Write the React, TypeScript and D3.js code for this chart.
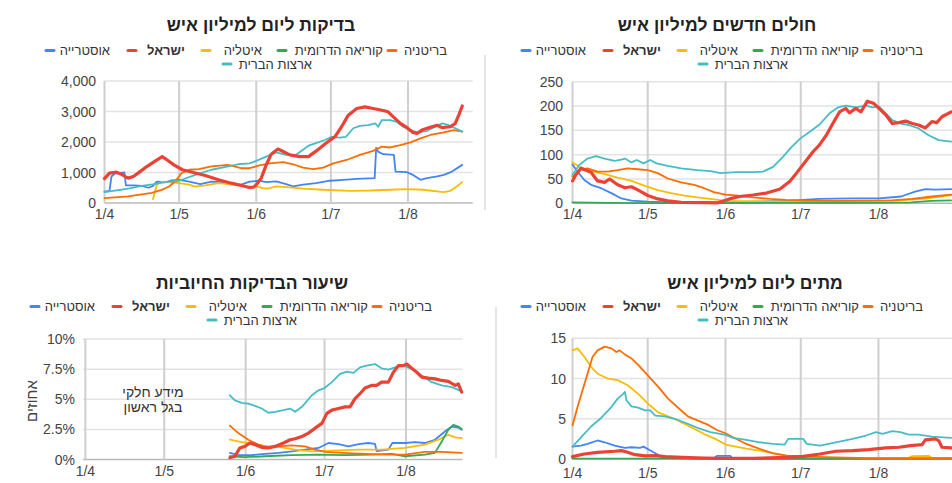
import React from 'react';
import * as d3 from 'd3';

type Pt = [number, number];

// ---------- shared categories / ticks ----------
const seriesNames = ['אוסטרייה', 'ישראל', 'איטליה', 'קוריאה הדרומית', 'בריטניה', 'ארצות הברית'];
const seriesColors = ['#4285F4', '#EA4335', '#FBBC04', '#34A853', '#FF6D01', '#46BDC6'];
const monthTickDays = [0, 30, 61, 91, 122];
const monthTickLabels = ['1/4', '1/5', '1/6', '1/7', '1/8'];

const chartTitles = ['בדיקות ליום למיליון איש', 'חולים חדשים למיליון איש', 'שיעור הבדיקות החיוביות', 'מתים ליום למיליון איש'];
const testsTicks = [0, 1000, 2000, 3000, 4000];
const casesTicks = [0, 50, 100, 150, 200, 250];
const positiveTicks = [0, 2.5, 5, 7.5, 10];
const deathsTicks = [0, 5, 10, 15];
const positiveAxisTitle = 'אחוזים';
const positiveNote = ['מידע חלקי', 'בגל ראשון'];

// ---------- data: [days since 1/4, value] ----------
// tests per day per million
const testsAustria: Pt[] = [[0,370],[2,400],[2.8,870],[4,960],[8,1000],[8.6,580],[12,580],[15,560],[17.7,500],[19.5,560],[21,700],[24.5,680],[27,740],[30,760],[34,700],[38.5,620],[43,700],[47,690],[49.7,620],[54.9,600],[58.3,700],[62.3,730],[65,685],[69,706],[73,620],[75.8,545],[79.8,600],[85,650],[90.6,730],[96,760],[101.4,790],[108.6,815],[109.2,1815],[110,1685],[112,1600],[116.3,1580],[117,1030],[121.6,1010],[124,920],[127,760],[129.6,815],[133.7,870],[136.4,920],[139.7,1030],[143.8,1250]];
const testsIsrael: Pt[] = [[0,800],[2,980],[4.8,1010],[6.8,945],[8.2,870],[9.5,815],[11.6,870],[14.3,1030],[17,1195],[20.5,1380],[23.2,1520],[25.2,1410],[27.9,1250],[31.3,1090],[35.3,1010],[40.5,900],[45.8,760],[51,650],[55,575],[58.3,510],[60,520],[61,600],[63,815],[65,1250],[67,1600],[69.7,1770],[71.8,1690],[74.5,1580],[78.5,1520],[82,1520],[85,1700],[89,1960],[92.6,2170],[95.3,2500],[98,2880],[101.4,3100],[104.7,3150],[108,3100],[111.5,3040],[114,2990],[116,2830],[118.9,2610],[121.6,2470],[124,2315],[125.6,2280],[127.6,2390],[130.3,2470],[133.7,2550],[135.7,2470],[139,2500],[141,2610],[142.4,2880],[143.8,3180]];
const testsItaly: Pt[] = [[19.5,130],[21,600],[23,700],[26,685],[30,650],[34,600],[36.5,540],[40.5,575],[45.7,650],[52,600],[58.3,510],[61,545],[63.7,490],[65.7,470],[69,545],[74.5,510],[79.8,470],[88,435],[98.7,400],[106.8,410],[114.8,435],[121.6,455],[128,435],[136.4,360],[139,400],[141,510],[143.8,685]];
const testsKorea: Pt[] = [];
const testsUK: Pt[] = [[0,160],[9.5,220],[19,330],[23,430],[26,540],[28.6,730],[31,980],[34,1090],[37.9,1110],[43,1200],[49.7,1250],[54.9,1140],[58.3,1140],[62.3,1230],[66.4,1300],[71.8,1340],[75.8,1270],[79.8,1160],[83.9,1110],[87.9,1160],[92,1300],[97.3,1410],[102.7,1580],[108,1710],[111.5,1850],[114.8,1820],[118.9,1900],[123,1990],[127,2120],[131,2230],[136.4,2315],[140.4,2390],[143.8,2340]];
const testsUSA: Pt[] = [[0,360],[3.4,400],[6.8,435],[10,480],[15,560],[20,620],[25,690],[30,730],[36.5,920],[43,1090],[49.7,1200],[53.6,1270],[58.3,1300],[61,1380],[65,1520],[69,1660],[73,1580],[77,1580],[82,1880],[85,1960],[88.6,2065],[91.3,2170],[94.6,2140],[97,2170],[100,2450],[102.7,2530],[106,2550],[108.8,2610],[110,2500],[111.5,2720],[114.8,2720],[117.5,2660],[120,2500],[123,2390],[125.6,2315],[129.6,2360],[133,2500],[135.7,2610],[138.4,2550],[141,2450],[143.8,2340]];

// new cases per million
const casesAustria: Pt[] = [[0,80],[2,65],[4.7,48],[7.4,38],[11.4,31],[15.5,21],[19.5,10],[23.5,5.5],[30,3.4],[39.3,2],[49.8,1.4],[61,2],[72,3.4],[85,5],[98.5,9],[111.7,10],[122.2,10],[131,14],[136.6,24],[140.7,29],[144.6,28],[151,29]];
const casesIsrael: Pt[] = [[0,46],[1.3,58],[3.4,72],[5.4,68],[7.4,64],[10,46],[12.8,43],[14.8,50],[18,38],[20.9,32],[23.5,34],[26.2,27],[30,16],[34,9],[38,5],[43.3,2],[52.5,1.5],[58,1],[62.6,9],[66.6,14],[72,17],[77.3,21],[82.6,29],[86.6,45],[89.3,62],[92.6,84],[95.9,106],[98.5,120],[101.2,140],[103.8,164],[106.5,188],[109,195],[110.4,186],[113,195],[115,188],[117.6,210],[120.2,205],[122.2,195],[124.9,182],[127.5,164],[130.2,166],[132.8,169],[135.5,164],[138,161],[140.7,155],[143.3,168],[145.3,166],[147.3,178],[151,188]];
const casesItaly: Pt[] = [[0,84],[2.7,75],[7.4,66],[12.8,60],[18,53],[23.5,46],[28.9,36],[34,27],[39.3,21],[44.6,16],[49.8,12],[55,9],[61,5],[75,4],[91,3.5],[105,4],[120,5],[130,6],[140,9],[146,13],[151,17]];
const casesKorea: Pt[] = [[0,2],[15,0.8],[30,0.3],[60,0.6],[90,1],[120,0.8],[135,2],[143,5],[151,6]];
const casesUK: Pt[] = [[0,55],[2.7,68],[6,72],[10,65],[14,65],[18,68],[22,72],[26,70],[30,68],[34,62],[38,51],[43.3,43],[48.5,38],[52.5,31],[56.4,23],[61,18],[65,16],[72,12],[78.6,9],[85,7],[93,5.5],[105,5],[118,5.5],[127.5,6],[135.5,9],[143.3,14],[151,18]];
const casesUSA: Pt[] = [[0,58],[2.7,79],[6,92],[9.4,97],[12.8,92],[16.8,87],[19.5,90],[20.9,92],[23.5,84],[25.6,89],[28.3,82],[31,89],[33.5,82],[38,77],[43.3,72],[49.8,68],[55,66],[59,62],[65.3,64],[72,64],[76,65],[80,75],[84,96],[87.4,116],[91,134],[94.6,147],[98.5,162],[102.5,185],[105.8,197],[109,201],[113,197],[117,201],[119.6,197],[122.2,199],[124.9,185],[127.5,171],[130.8,164],[134,161],[138,154],[142,140],[146,130],[151,127]];

// positive test rate (%)
const positiveAustria: Pt[] = [[55,0.55],[58.2,0.36],[63.3,0.36],[68.4,0.46],[73.5,0.55],[78.6,0.68],[83.6,0.82],[88.7,0.96],[92.5,1.37],[96.3,1.28],[100.1,1.09],[104,1.28],[107.6,1.37],[110.2,1.3],[110.8,0.7],[115.3,0.82],[116.8,1.37],[121.6,1.37],[125.4,1.45],[129.2,1.37],[133,1.64],[136.8,2.32],[139.4,2.73],[141.9,2.65],[143.2,2.46]];
const positiveIsrael: Pt[] = [[55,0.14],[56.9,0.27],[58.8,0.96],[60.7,1.09],[62.6,1.37],[64.6,1.23],[67.1,1.01],[69.6,0.96],[72.2,1.09],[75.4,1.37],[77.9,1.64],[79.8,1.72],[82.4,1.91],[84.9,2.19],[87.4,2.6],[90,3.0],[91.9,3.83],[93.8,4.1],[96.3,4.23],[98.8,4.37],[100.7,4.37],[102.6,5.05],[104.5,5.46],[106.4,5.93],[108.9,6.15],[110.8,6.15],[112.7,6.42],[115.3,6.42],[117.2,7.24],[119.1,7.79],[121,7.79],[122.3,7.92],[124.2,7.57],[126.1,7.24],[128,6.83],[130.5,6.75],[133.1,6.69],[135.6,6.56],[138.1,6.48],[140.7,6.15],[141.9,6.28],[143.2,5.6]];
const positiveItaly: Pt[] = [[55,1.64],[59.5,1.45],[64.6,1.28],[69.6,1.09],[74.7,1.01],[79.8,0.82],[86.2,0.68],[93.8,0.74],[104,0.82],[112.7,0.82],[121.6,0.96],[129.2,1.23],[134.3,1.64],[138.1,2.05],[140.7,1.83],[143.2,1.78]];
const positiveKorea: Pt[] = [[55,0.27],[60.7,0.19],[68.4,0.27],[78.6,0.36],[88.7,0.41],[98.8,0.36],[108.9,0.41],[116.6,0.46],[121.6,0.27],[129.2,0.41],[133,0.55],[135.6,1.5],[138.1,2.46],[140,2.87],[141.9,2.73],[143.2,2.54]];
const positiveUK: Pt[] = [[55,2.81],[58.2,2.19],[62,1.64],[65.8,1.23],[69.6,0.96],[73.5,1.09],[78.6,1.17],[83.6,1.09],[87.4,0.82],[91.3,0.63],[97.6,0.55],[106.5,0.46],[114,0.41],[121.6,0.41],[129.2,0.63],[135.6,0.63],[143.2,0.55]];
const positiveUSA: Pt[] = [[55,5.33],[56.9,4.9],[59.5,4.7],[62,4.64],[64.6,4.45],[67.1,4.23],[69.6,3.88],[72.2,3.96],[75.4,4.1],[77.9,4.23],[79.8,3.96],[82.4,4.37],[86.2,5.33],[88.7,5.74],[91,5.93],[93.8,6.42],[96.9,7.1],[99.5,7.3],[102,7.19],[104.5,7.65],[107,7.79],[110.2,7.92],[112.7,7.57],[115.3,7.46],[117.8,7.65],[121,7.79],[124.2,7.51],[128,6.97],[131.8,6.42],[135.6,6.15],[139.4,6.01],[143.2,5.66]];

// deaths per day per million
const deathsAustria: Pt[] = [[0,1.54],[3.4,1.67],[6,1.88],[10,2.3],[12.8,2.08],[16.8,1.67],[20.9,1.38],[23.5,1.46],[26.9,1.38],[28.3,1.54],[31.6,0.96],[35.5,0.29],[40.7,0.12],[56.4,0.08],[57.6,0.38],[63,0.38],[63.6,0.08],[90,0.05],[120,0.05],[151,0.08]];
const deathsIsrael: Pt[] = [[0,0.29],[4.7,0.62],[10,0.83],[16.8,0.96],[19.5,1.04],[22,0.83],[24.9,0.54],[29,0.38],[33,0.42],[37,0.29],[43.5,0.2],[52.5,0.12],[61,0.08],[72,0.08],[85.3,0.2],[92,0.33],[98.7,0.62],[105,0.96],[111.7,1.04],[118,1.17],[124.9,1.38],[130.2,1.46],[134.8,1.67],[139.4,1.79],[140.7,2.38],[144.6,2.5],[146,2.29],[147.3,1.46],[151,1.38]];
const deathsItaly: Pt[] = [[0,13.5],[2,13.75],[4.7,12.7],[7.4,11.46],[10,10.6],[14,10.0],[18,9.8],[22,9.17],[26.2,8.1],[30,6.9],[34.2,5.8],[38.1,5.3],[42,4.8],[47.3,3.96],[52.5,3.1],[57.6,2.4],[61,1.8],[69.3,1.3],[78.6,0.83],[85.3,0.42],[92,0.2],[105,0.12],[118,0.12],[134,0.15],[135.5,0.35],[142,0.4],[143.3,0.12],[151,0.12]];
const deathsKorea: Pt[] = [[0,0.05],[30,0.04],[60,0.02],[90,0.02],[120,0.02],[151,0.03]];
const deathsUK: Pt[] = [[0,4.17],[2,6.46],[4,8.54],[6,10.6],[8,12.7],[10,13.5],[12.8,13.96],[15.5,13.75],[17.5,13.3],[18.8,13.5],[20.9,13.0],[23.5,12.5],[26.2,11.7],[30,10.4],[34.2,8.96],[38.1,7.5],[42,6.4],[46,5.3],[49.8,4.8],[53.7,4.3],[57.6,3.6],[61,3.2],[64,2.7],[69.3,1.87],[74.6,1.25],[80,0.7],[85.3,0.42],[93,0.29],[105,0.2],[118,0.12],[131,0.12],[151,0.12]];
const deathsUSA: Pt[] = [[0,1.54],[3.4,2.7],[7.4,4.04],[11.4,5.1],[15.5,6.46],[18,7.5],[20.2,8.1],[20.9,8.33],[21.5,7.3],[23.5,6.54],[26.2,6.38],[28.9,6.04],[31,6.04],[33,5.4],[36.8,5.3],[40.8,5.0],[46,4.38],[49.8,3.88],[55,3.33],[61,3.0],[64,2.63],[69.3,2.38],[74.6,2.08],[80,1.88],[84.6,1.79],[86,2.5],[92,2.5],[93.4,1.88],[98.7,1.67],[105,2.08],[111.7,2.5],[117,2.92],[121,3.33],[123.6,3.13],[127.5,3.46],[130.8,3.33],[134,3.04],[138,3.04],[143.3,2.79],[151,2.63]];

// ---------- helpers ----------
const BASE = Date.UTC(2020, 3, 1);
const toDate = (d: number) => new Date(BASE + d * 864e5);
const FONT = '"Liberation Sans", Arial, "DejaVu Sans", sans-serif';

interface PanelCfg {
  title: string;
  titleX: number; titleY: number;
  d0: number; d1: number; x0: number; x1: number;
  yMax: number; yBottom: number; yTop: number;
  ticks: number[]; fmt: (v: number) => string; tickX: number;
  xLabelY: number;
  legendDx: number; legendDy: number; legendScale: number;
  series: Pt[][];
}

// legend geometry for the first chart (text right end, marker center)
const legendTextEnd = [110, 185, 262, 383, 447, 312];
const legendMarker = [50, 132, 206, 282, 392, 227];
const legendRow = [0, 0, 0, 0, 0, 1];

function Panel({ cfg }: { cfg: PanelCfg }) {
  const x = d3.scaleTime().domain([toDate(cfg.d0), toDate(cfg.d1)]).range([cfg.x0, cfg.x1]);
  const y = d3.scaleLinear().domain([0, cfg.yMax]).range([cfg.yBottom, cfg.yTop]);
  const line = d3.line<Pt>().x((p) => x(toDate(p[0]))).y((p) => y(p[1]));
  const order = [0, 2, 3, 4, 5, 1];
  return (
    <g>
      <text x={cfg.titleX} y={cfg.titleY} textAnchor="middle" fontSize={17.5} fontWeight="bold" fill="#222">{cfg.title}</text>
      {seriesNames.map((n, i) => {
        const rowY = cfg.legendDy + 55 + legendRow[i] * 13.5;
        const tx = cfg.legendDx + legendTextEnd[i] * cfg.legendScale;
        const mx = cfg.legendDx + legendMarker[i] * cfg.legendScale;
        return (
          <g key={n}>
            <line x1={mx - 4} x2={mx + 4} y1={rowY - 4.5} y2={rowY - 4.5} stroke={seriesColors[i]} strokeWidth={3} strokeLinecap="round" />
            <text x={tx} y={rowY} textAnchor="end" fontSize={13} fontWeight={i === 1 ? 'bold' : 'normal'} fill="#333">{n}</text>
          </g>
        );
      })}
      {cfg.ticks.map((t) => (
        <g key={t}>
          <line x1={cfg.x0} x2={cfg.x1} y1={y(t)} y2={y(t)} stroke={t === 0 ? '#b8b8b8' : '#e3e3e3'} strokeWidth={1.5} />
          <text x={cfg.tickX} y={y(t) + 5} textAnchor="end" fontSize={14} fill="#444">{cfg.fmt(t)}</text>
        </g>
      ))}
      {monthTickDays.map((d, i) => (
        <g key={d}>
          <line x1={x(toDate(d))} x2={x(toDate(d))} y1={cfg.yTop} y2={cfg.yBottom} stroke="#cfcfcf" strokeWidth={2} />
          <text x={x(toDate(d))} y={cfg.xLabelY} textAnchor="middle" fontSize={14} fill="#444">{monthTickLabels[i]}</text>
        </g>
      ))}
      {order.map((i) =>
        cfg.series[i].length ? (
          <path key={i} d={line(cfg.series[i]) || ''} fill="none" stroke={seriesColors[i]} strokeWidth={i === 1 ? 3.2 : 1.8} strokeLinejoin="round" strokeLinecap="round" />
        ) : null
      )}
    </g>
  );
}

const comma = d3.format(',');

const panels: PanelCfg[] = [
  {
    title: chartTitles[0], titleX: 261, titleY: 31,
    d0: 0, d1: 148, x0: 104.5, x1: 472.7,
    yMax: 4000, yBottom: 203, yTop: 81, ticks: testsTicks, fmt: (v) => comma(v), tickX: 96,
    xLabelY: 219, legendDx: 0, legendDy: 0, legendScale: 1,
    series: [testsAustria, testsIsrael, testsItaly, testsKorea, testsUK, testsUSA],
  },
  {
    title: chartTitles[1], titleX: 717, titleY: 31,
    d0: 0, d1: 152, x0: 572.5, x1: 953.7,
    yMax: 250, yBottom: 203.3, yTop: 81.7, ticks: casesTicks, fmt: (v) => String(v), tickX: 563,
    xLabelY: 219, legendDx: 476, legendDy: 0, legendScale: 1,
    series: [casesAustria, casesIsrael, casesItaly, casesKorea, casesUK, casesUSA],
  },
  {
    title: chartTitles[2], titleX: 252, titleY: 289,
    d0: -0.9, d1: 143.5, x0: 83, x1: 462.5,
    yMax: 10, yBottom: 459.5, yTop: 339, ticks: positiveTicks, fmt: (v) => `${v}%`, tickX: 75,
    xLabelY: 476, legendDx: -15, legendDy: 256, legendScale: 1,
    series: [positiveAustria, positiveIsrael, positiveItaly, positiveKorea, positiveUK, positiveUSA],
  },
  {
    title: chartTitles[3], titleX: 755, titleY: 289,
    d0: 0, d1: 152, x0: 572.5, x1: 953.7,
    yMax: 15, yBottom: 459, yTop: 338.3, ticks: deathsTicks, fmt: (v) => String(v), tickX: 566,
    xLabelY: 477.5, legendDx: 476, legendDy: 256, legendScale: 1,
    series: [deathsAustria, deathsIsrael, deathsItaly, deathsKorea, deathsUK, deathsUSA],
  },
];

export default function App() {
  return (
    <svg width={952} height={483} style={{ position: 'absolute', left: 0, top: 0, background: '#fff' }} fontFamily={FONT}>
      <rect x={0} y={0} width={952} height={483} fill="#fff" />
      <line x1={485} x2={485} y1={55} y2={210} stroke="#dcdcdc" strokeWidth={1.5} />
      <line x1={496} x2={496} y1={307} y2={458} stroke="#dcdcdc" strokeWidth={1.5} />
      {panels.map((p, i) => (
        <Panel key={i} cfg={p} />
      ))}
      <text transform="translate(37,401) rotate(-90)" textAnchor="middle" fontSize={15} fill="#444">{positiveAxisTitle}</text>
      <text x={153} y={397} textAnchor="middle" fontSize={14} fill="#333">{positiveNote[0]}</text>
      <text x={153} y={412} textAnchor="middle" fontSize={14} fill="#333">{positiveNote[1]}</text>
    </svg>
  );
}
